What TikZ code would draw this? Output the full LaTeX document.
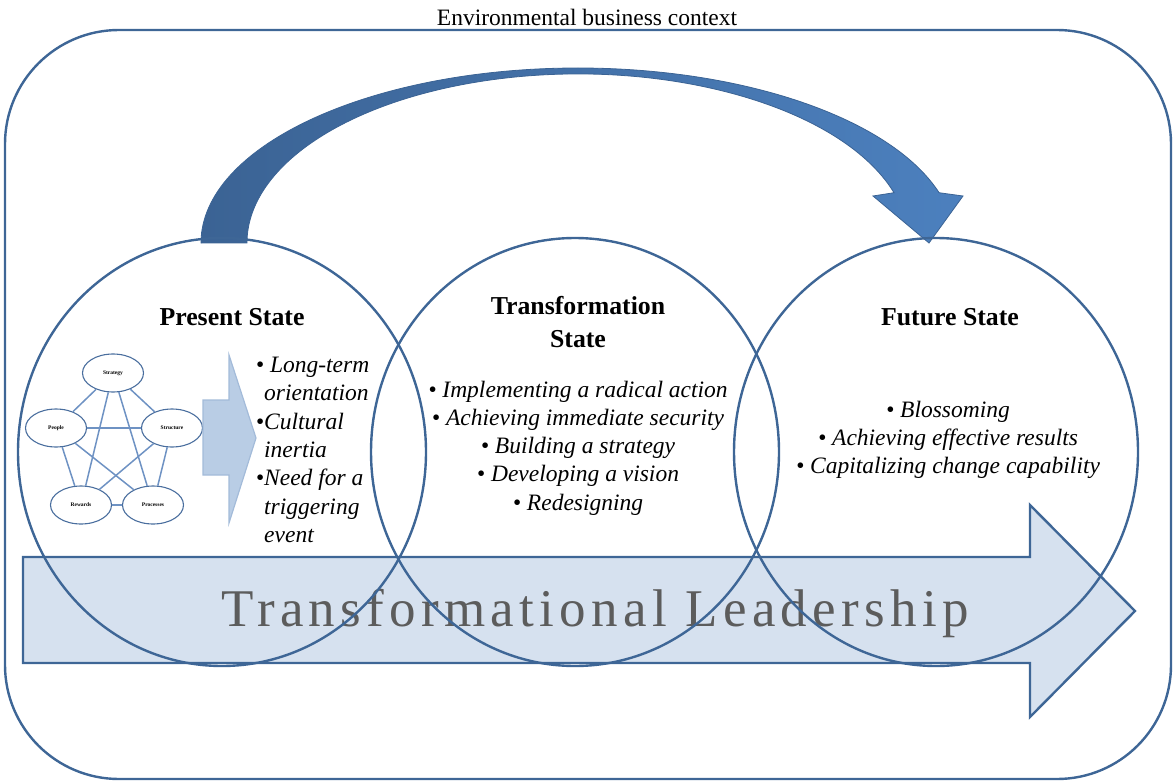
\documentclass[tikz,border=0pt]{standalone}
\usepackage{fontspec}
\setmainfont{Liberation Serif}
\usetikzlibrary{shapes.geometric,positioning}

\definecolor{ringblue}{HTML}{3E6696}
\definecolor{bandfill}{HTML}{D6E1EF}
\definecolor{bowdark}{HTML}{3B6394}
\definecolor{bowlight}{HTML}{4C80BE}
\definecolor{pushfill}{HTML}{B9CDE5}
\definecolor{pushline}{HTML}{A3BBD9}
\definecolor{netline}{HTML}{6E92C3}
\definecolor{netring}{HTML}{4A6E9E}
\definecolor{bandtext}{HTML}{5C5C5C}

\tikzset{
	ring/.style={draw=ringblue, line width=2.4pt},
	band/.style={draw=ringblue, line width=2.4pt, fill=bandfill},
	bow/.style={draw=bowdark, line width=0.8pt, left color=bowdark, right color=bowlight},
	push/.style={draw=pushline, line width=1.2pt, fill=pushfill},
	factor/.style={ellipse, draw=netring, line width=1.1pt, minimum width=61pt, minimum height=38pt, inner sep=0pt, font=\fontsize{5.5}{6}\selectfont\bfseries},
	netedge/.style={draw=netline, line width=1.5pt},
	heading/.style={font=\fontsize{25.8}{33}\selectfont\bfseries, align=center, inner sep=0pt},
	points/.style={font=\fontsize{23.5}{28.3}\selectfont\itshape, inner sep=0pt},
}

\begin{document}
\begin{tikzpicture}[x=1pt,y=-1pt]
\useasboundingbox (0,0) rectangle (1175,781);

% context frame
\draw[ring, rounded corners=114pt] (5,30) rectangle (1171,779);
\node[font=\fontsize{23.5}{28}\selectfont, anchor=base, inner sep=0pt] (context) at (587,26) {Environmental business context};

% bow arrow from present to future state
\draw[bow] (201,243) arc[start angle=180, end angle=343.3, x radius=377, y radius=175]
	-- (963,196) -- (929,243) -- (873,196) -- (894,192.7)
	arc[start angle=342.7, end angle=180, x radius=331, y radius=169] -- cycle;

% leadership band
\draw[band] (23,557) -- (1030,557) -- (1030,505) -- (1135,611) -- (1030,717) -- (1030,663) -- (23,663) -- cycle;
\node[font=\fontsize{53}{54}\selectfont\addfontfeatures{LetterSpace=10}, text=bandtext, anchor=base, inner sep=0pt] (leadership) at (595,626) {Transformational Leadership};

% the three states
\foreach \cx/\rx in {222/204, 575/204, 936/202} {
	\draw[ring] (\cx,452) ellipse[x radius=\rx, y radius=214];
}

% organisation model
\node[factor] (strategy) at (113,373) {Strategy};
\node[factor] (people) at (56,428) {People};
\node[factor] (structure) at (172,428) {Structure};
\node[factor] (rewards) at (81,505) {Rewards};
\node[factor] (processes) at (153,505) {Processes};
\foreach \a/\b in {strategy/people, strategy/structure, strategy/rewards, strategy/processes,
	people/structure, people/rewards, people/processes,
	structure/rewards, structure/processes, rewards/processes} {
	\draw[netedge] (\a) -- (\b);
}

% push arrow
\draw[push] (203,400) -- (229,400) -- (229,355) -- (256,438) -- (229,523) -- (229,475) -- (203,475) -- cycle;

% present state
\node[heading, anchor=base] (presenthead) at (232,325) {Present State};
\node[points, anchor=west, align=left] (presentpts) at (264,450)
	{\llap{\textbullet}\ Long-term\\orientation\\\llap{\textbullet}Cultural\\inertia\\\llap{\textbullet}Need for a\\triggering\\event};

% transformation state
\node[heading] (transhead) at (578,322) {Transformation\\State};
\node[points, align=center] (transpts) at (578,448)
	{\textbullet\ Implementing a radical action\\\textbullet\ Achieving immediate security\\\textbullet\ Building a strategy\\\textbullet\ Developing a vision\\\textbullet\ Redesigning};

% future state
\node[heading, anchor=base] (futurehead) at (950,325) {Future State};
\node[points, align=center] (futurepts) at (948,440)
	{\textbullet\ Blossoming\\\textbullet\ Achieving effective results\\\textbullet\ Capitalizing change capability};
\end{tikzpicture}
\end{document}
